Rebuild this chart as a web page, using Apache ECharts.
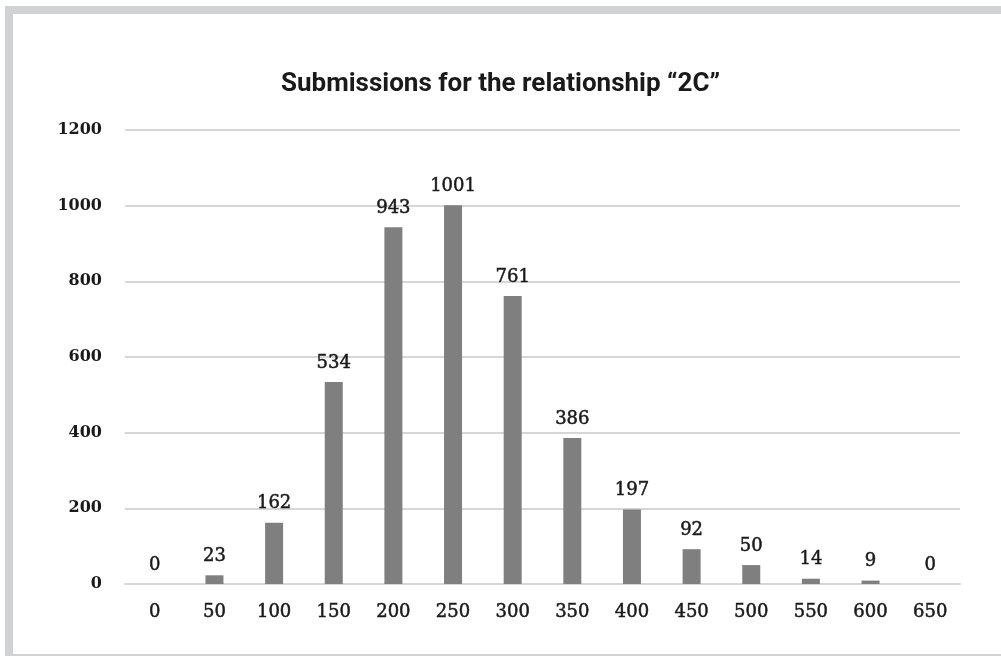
<!DOCTYPE html>
<html>
<head>
<meta charset="utf-8">
<script src="https://cdn.jsdelivr.net/npm/echarts@6/dist/echarts.min.js"></script>
<style>
  html, body { margin: 0; padding: 0; background: #ffffff; }
  #chart { width: 1001px; height: 657px; }
</style>
</head>
<body>
<div id="chart"></div>
<script>
// Submission counts binned by value
const categories = ['0', '50', '100', '150', '200', '250', '300', '350', '400', '450', '500', '550', '600', '650'];
const submissions = [0, 23, 162, 534, 943, 1001, 761, 386, 197, 92, 50, 14, 9, 0];
const yTicks = [0, 200, 400, 600, 800, 1000, 1200];

const serif = '"DejaVu Serif", "Liberation Serif", serif';
const frameColor = '#d1d2d4';
const ink = '#1a1a1a';

const chart = echarts.init(document.getElementById('chart'), null, { renderer: 'canvas' });

chart.setOption({
  backgroundColor: '#ffffff',
  animation: false,
  title: {
    text: 'Submissions for the relationship \u201C2C\u201D',
    left: 'center',
    top: 66,
    textStyle: {
      fontFamily: '"Liberation Sans Narrow", "Roboto", "DejaVu Sans Condensed", sans-serif',
      fontWeight: 'bold',
      fontSize: 26,
      color: ink
    }
  },
  graphic: [
    { type: 'rect', shape: { x: 5, y: 6, width: 996, height: 8 }, style: { fill: frameColor }, silent: true },
    { type: 'rect', shape: { x: 5, y: 6, width: 8, height: 650 }, style: { fill: frameColor }, silent: true },
    { type: 'rect', shape: { x: 5, y: 654, width: 996, height: 2 }, style: { fill: frameColor }, silent: true }
  ],
  grid: {
    left: 125,
    right: 41,
    top: 130,
    bottom: 73,
    containLabel: false
  },
  xAxis: {
    type: 'category',
    data: categories,
    axisLine: { show: true, lineStyle: { color: '#d6d6d6', width: 2 } },
    axisTick: { show: false },
    axisLabel: {
      margin: 19,
      fontFamily: serif,
      fontSize: 18,
      color: ink,
      textBorderColor: ink,
      textBorderWidth: 0.5
    },
    splitLine: { show: false }
  },
  yAxis: {
    type: 'value',
    min: yTicks[0],
    max: yTicks[yTicks.length - 1],
    interval: 200,
    axisLine: { show: false },
    axisTick: { show: false },
    axisLabel: {
      margin: 23,
      fontFamily: serif,
      fontSize: 16,
      fontWeight: 'bold',
      color: ink,
      formatter: function (v) { return String(v); }
    },
    splitLine: { show: true, lineStyle: { color: '#d6d6d6', width: 2 } }
  },
  series: [{
    type: 'bar',
    data: submissions,
    barWidth: 18,
    itemStyle: { color: '#7f7f7f' },
    label: {
      show: true,
      position: 'top',
      distance: 10,
      fontFamily: serif,
      fontSize: 18,
      color: ink,
      textBorderColor: ink,
      textBorderWidth: 0.5
    }
  }]
});
</script>
</body>
</html>
